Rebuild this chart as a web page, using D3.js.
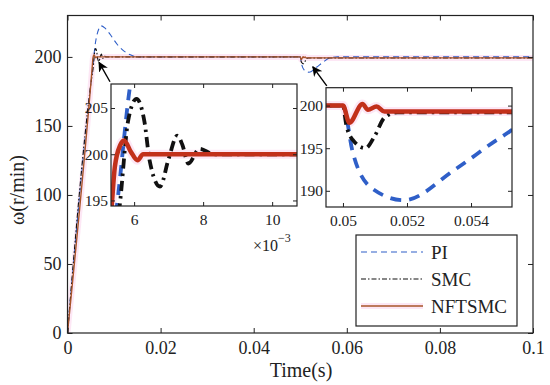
<!DOCTYPE html>
<html>
<head>
<meta charset="utf-8">
<script src="https://cdn.jsdelivr.net/npm/d3@7"></script>
<style>
  body { margin: 0; background: #fff; }
  svg { display: block; }
  text { font-family: "Liberation Serif", "DejaVu Serif", serif; fill: #222; }
</style>
</head>
<body>
<svg id="chart" width="550" height="385"></svg>
<script>
// time in seconds, speed in r/min
var piT  = [0, 0.005, 0.00555, 0.00585, 0.0062, 0.0067, 0.0072, 0.008, 0.009, 0.0107, 0.0117, 0.0135, 0.015, 0.05, 0.0503, 0.0509, 0.0519, 0.0535, 0.0549, 0.0565, 0.058, 0.1];
var piW  = [0, 180, 196, 206.5, 214, 220, 222.5, 221, 217, 209, 205.5, 201.5, 200, 200, 194.6, 190.3, 188.9, 192.5, 196.2, 199.5, 200, 200];

var smcT = [0, 0.005, 0.00559, 0.00583, 0.00607, 0.0063, 0.00645, 0.00675, 0.007, 0.00725, 0.0074, 0.00757, 0.0079, 0.0083, 0.05, 0.0501, 0.0503, 0.0507, 0.051, 0.0513, 0.0517, 0.1];
var smcW = [0, 180, 194.7, 203.7, 206, 203.5, 199.3, 196.5, 199.5, 202, 201, 199, 200.6, 200, 200, 197.8, 196, 195, 196.5, 198.6, 199.2, 199.2];

var nftT = [0, 0.005, 0.00535, 0.00544, 0.0056, 0.00571, 0.0059, 0.0061, 0.00626, 0.05, 0.0502, 0.05061, 0.05078, 0.05105, 0.0513, 0.1];
var nftW = [0, 180, 194.4, 198.6, 201, 201.5, 200.3, 199.35, 200, 200, 198, 200.2, 199.5, 199.9, 199.3, 199.3];

var xTicks = [0, 0.02, 0.04, 0.06, 0.08, 0.1];
var yTicks = [0, 50, 100, 150, 200];
var in1XTicks = [0.006, 0.008, 0.01];
var in1YTicks = [195, 200, 205];
var in2XTicks = [0.05, 0.052, 0.054];
var in2YTicks = [190, 195, 200];
var legendNames = ["PI", "SMC", "NFTSMC"];
// arrows: [tailT, tailW, tipT, tipW]
var arrows = [[0.00913, 182, 0.00677, 196], [0.0557, 179, 0.0527, 192.8]];

var svg = d3.select("#chart");

var blue = "#2f5fc8", black = "#111", redIn = "#c2301b", redThin = "#a9542a", pink = "#fbd3ec";

function pts(T, W) { return T.map(function(t, i) { return [t, W[i]]; }); }
var series = [
  {name: "PI", data: pts(piT, piW), color: blue, dash: "6,4", dashIn: "11,8", off: 6},
  {name: "SMC", data: pts(smcT, smcW), color: black, dash: "5,2,1.5,2", dashIn: "10,5,2.5,5", off: 0},
  {name: "NFTSMC", data: pts(nftT, nftW), color: redThin, dash: null, dashIn: null, off: 0}
];

var defs = svg.append("defs");
defs.append("marker").attr("id", "arr").attr("viewBox", "0 0 10 10")
  .attr("refX", 9).attr("refY", 5).attr("markerWidth", 10).attr("markerHeight", 10)
  .attr("markerUnits", "userSpaceOnUse").attr("orient", "auto")
  .append("path").attr("d", "M0,0 L10,5 L0,10 L3,5 Z").attr("fill", "#000");

function drawPanel(cfg) {
  var x = d3.scaleLinear().domain(cfg.xd).range(cfg.xr);
  var y = d3.scaleLinear().domain(cfg.yd).range(cfg.yr);
  var g = svg.append("g");
  var cid = "clip" + cfg.id;
  defs.append("clipPath").attr("id", cid).append("rect")
    .attr("x", cfg.xr[0]).attr("y", cfg.yr[1])
    .attr("width", cfg.xr[1] - cfg.xr[0]).attr("height", cfg.yr[0] - cfg.yr[1]);

  g.append("rect").attr("x", cfg.xr[0]).attr("y", cfg.yr[1])
    .attr("width", cfg.xr[1] - cfg.xr[0]).attr("height", cfg.yr[0] - cfg.yr[1])
    .attr("fill", "#fff");

  var line = d3.line().x(function(d) { return x(d[0]); }).y(function(d) { return y(d[1]); })
    .curve(d3.curveMonotoneX);
  var lg = g.append("g").attr("clip-path", "url(#" + cid + ")");
  // faint pink halo under NFTSMC
  lg.append("path").attr("d", line(series[2].data)).attr("fill", "none")
    .attr("stroke", pink).attr("stroke-width", cfg.inset ? 9 : 6).attr("opacity", 0.55);
  series.forEach(function(s) {
    lg.append("path").attr("d", line(s.data)).attr("fill", "none")
      .attr("stroke", cfg.inset && s.name == "NFTSMC" ? redIn : s.color)
      .attr("stroke-width", cfg.inset ? (s.name == "NFTSMC" ? 4.5 : 3.8) : (s.name == "NFTSMC" ? 1.4 : 1.1))
      .attr("stroke-dasharray", cfg.inset ? s.dashIn : s.dash)
      .attr("stroke-dashoffset", cfg.inset ? s.off : 0);
  });

  var ts = cfg.inset ? 4 : 5;
  var fs = cfg.fs;
  var ax = g.append("g").attr("transform", "translate(0," + cfg.yr[0] + ")")
    .call(d3.axisBottom(x).tickValues(cfg.xt).tickSizeInner(-ts).tickSizeOuter(0).tickPadding(cfg.xpad)
      .tickFormat(cfg.xf));
  var ax2 = g.append("g").attr("transform", "translate(0," + cfg.yr[1] + ")")
    .call(d3.axisTop(x).tickValues(cfg.xt).tickSizeInner(-ts).tickSizeOuter(0).tickFormat(""));
  var ay = g.append("g").attr("transform", "translate(" + cfg.xr[0] + ",0)")
    .call(d3.axisLeft(y).tickValues(cfg.yt).tickSizeInner(-ts).tickSizeOuter(0).tickPadding(cfg.ypad));
  var ay2 = g.append("g").attr("transform", "translate(" + cfg.xr[1] + ",0)")
    .call(d3.axisRight(y).tickValues(cfg.yt).tickSizeInner(-ts).tickSizeOuter(0).tickFormat(""));
  [ax, ax2, ay, ay2].forEach(function(a) {
    a.select(".domain").remove();
    a.selectAll("line").attr("stroke", "#222");
    a.selectAll("text").attr("font-family", "Liberation Serif").attr("font-size", fs).attr("fill", "#222");
  });
  g.append("rect").attr("x", cfg.xr[0]).attr("y", cfg.yr[1])
    .attr("width", cfg.xr[1] - cfg.xr[0]).attr("height", cfg.yr[0] - cfg.yr[1])
    .attr("fill", "none").attr("stroke", "#222").attr("stroke-width", 1.2);
  return {x: x, y: y, g: g};
}

var main = drawPanel({id: "m", xd: [0, 0.1], xr: [67.5, 533], yd: [0, 230], yr: [333, 15.5],
  xt: xTicks, yt: yTicks, fs: 18, xpad: 8, ypad: 6, inset: false,
  xf: function(d) { return d3.format("")(+d.toFixed(2)); }});

// arrows
arrows.forEach(function(a) {
  svg.append("line").attr("x1", main.x(a[0])).attr("y1", main.y(a[1]))
    .attr("x2", main.x(a[2])).attr("y2", main.y(a[3]))
    .attr("stroke", "#000").attr("stroke-width", 1.4).attr("marker-end", "url(#arr)");
});

drawPanel({id: "i1", xd: [0.00533, 0.01072], xr: [111, 297], yd: [194.4, 207.6], yr: [206, 84],
  xt: in1XTicks, yt: in1YTicks, fs: 15.5, xpad: 8, ypad: 3, inset: true,
  xf: function(d) { return Math.round(d * 1000); }});

drawPanel({id: "i2", xd: [0.04947, 0.05528], xr: [326, 512], yd: [188.1, 202.1], yr: [207, 87.7],
  xt: in2XTicks, yt: in2YTicks, fs: 15.5, xpad: 8, ypad: 3, inset: true,
  xf: function(d) { return +d.toFixed(3); }});

// exponent label of inset 1
var ex = svg.append("text").attr("x", 253).attr("y", 251).attr("font-size", 16);
ex.append("tspan").text("×10");
ex.append("tspan").attr("dy", -9).attr("font-size", 12).text("−3");

// axis titles
svg.append("text").attr("x", 301).attr("y", 377).attr("text-anchor", "middle")
  .attr("font-size", 20).text("Time(s)");
svg.append("text").attr("transform", "translate(24,190) rotate(-90)").attr("text-anchor", "middle")
  .attr("font-size", 20).text("ω(r/min)");

// legend
var lgd = svg.append("g");
lgd.append("rect").attr("x", 356).attr("y", 235).attr("width", 161).attr("height", 91)
  .attr("fill", "#fff").attr("stroke", "#222").attr("stroke-width", 1.2);
series.forEach(function(s, i) {
  var yy = 252 + i * 27;
  if (s.name == "NFTSMC") {
    lgd.append("line").attr("x1", 361).attr("x2", 423).attr("y1", yy).attr("y2", yy)
      .attr("stroke", pink).attr("stroke-width", 6).attr("opacity", 0.55);
  }
  lgd.append("line").attr("x1", 361).attr("x2", 423).attr("y1", yy).attr("y2", yy)
    .attr("stroke", s.color).attr("stroke-width", s.name == "NFTSMC" ? 1.4 : 1.1)
    .attr("stroke-dasharray", s.dash);
  lgd.append("text").attr("x", 431).attr("y", yy + 6.5).attr("font-size", 19).text(legendNames[i]);
});
</script>
</body>
</html>
